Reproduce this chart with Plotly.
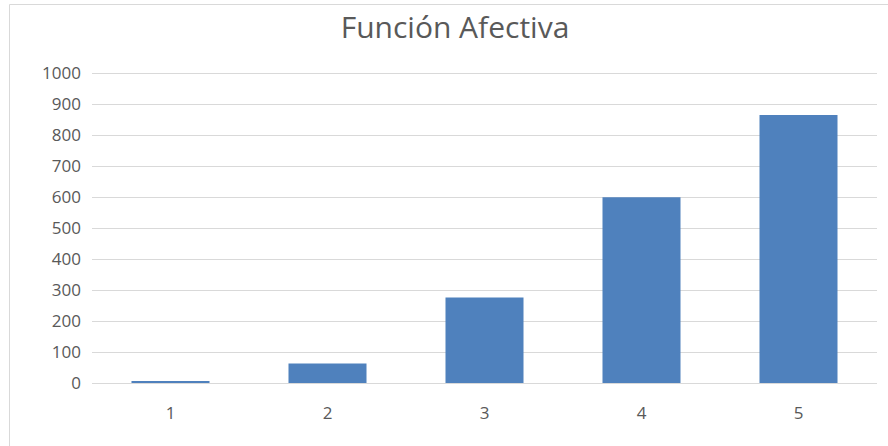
import plotly.graph_objects as go

# Data
categories = ["1", "2", "3", "4", "5"]
values = [5, 63, 276, 600, 865]
y_ticks = [0, 100, 200, 300, 400, 500, 600, 700, 800, 900, 1000]

title_text = "Función Afectiva"

W, H = 888, 446
ML, MR, MT, MB = 92, 11, 72, 63
plot_w = W - ML - MR
plot_h = H - MT - MB

TEXT = "#595959"
GRID = "#d9d9d9"
BAR = "#4f81bd"
FONT = "Open Sans"

fig = go.Figure(
    go.Bar(
        x=categories,
        y=values,
        marker=dict(color=BAR, line=dict(width=0)),
        hoverinfo="x+y",
    )
)

# Chart-area frame (left and top edges visible)
fx0 = (9.5 - ML) / plot_w
fy1 = (H - MB - 4.5) / plot_h
fig.add_shape(
    type="rect", xref="paper", yref="paper",
    x0=fx0, x1=1.2, y0=-0.5, y1=fy1,
    line=dict(color=GRID, width=1), fillcolor="rgba(0,0,0,0)", layer="below",
)

fig.update_layout(
    width=W,
    height=H,
    margin=dict(l=ML, r=MR, t=MT, b=MB),
    paper_bgcolor="white",
    plot_bgcolor="white",
    bargap=0.503,
    showlegend=False,
    font=dict(family=FONT, color=TEXT, size=17),
    title=dict(
        text=title_text,
        x=(455 - ML) / plot_w,
        xref="paper",
        xanchor="center",
        y=1 - 27 / H,
        yanchor="middle",
        font=dict(family=FONT, size=30, color=TEXT),
    ),
    xaxis=dict(
        showgrid=False,
        showline=False,
        ticks="",
        tickfont=dict(size=17, color=TEXT),
        ticklabelstandoff=18,
    ),
    yaxis=dict(
        range=[0, 1004],
        tickvals=y_ticks,
        showgrid=True,
        gridcolor=GRID,
        gridwidth=1,
        zeroline=True,
        zerolinecolor=GRID,
        zerolinewidth=1,
        showline=False,
        ticks="",
        tickfont=dict(size=17, color=TEXT),
        ticklabelstandoff=10,
    ),
)

fig.write_html("out.html")
